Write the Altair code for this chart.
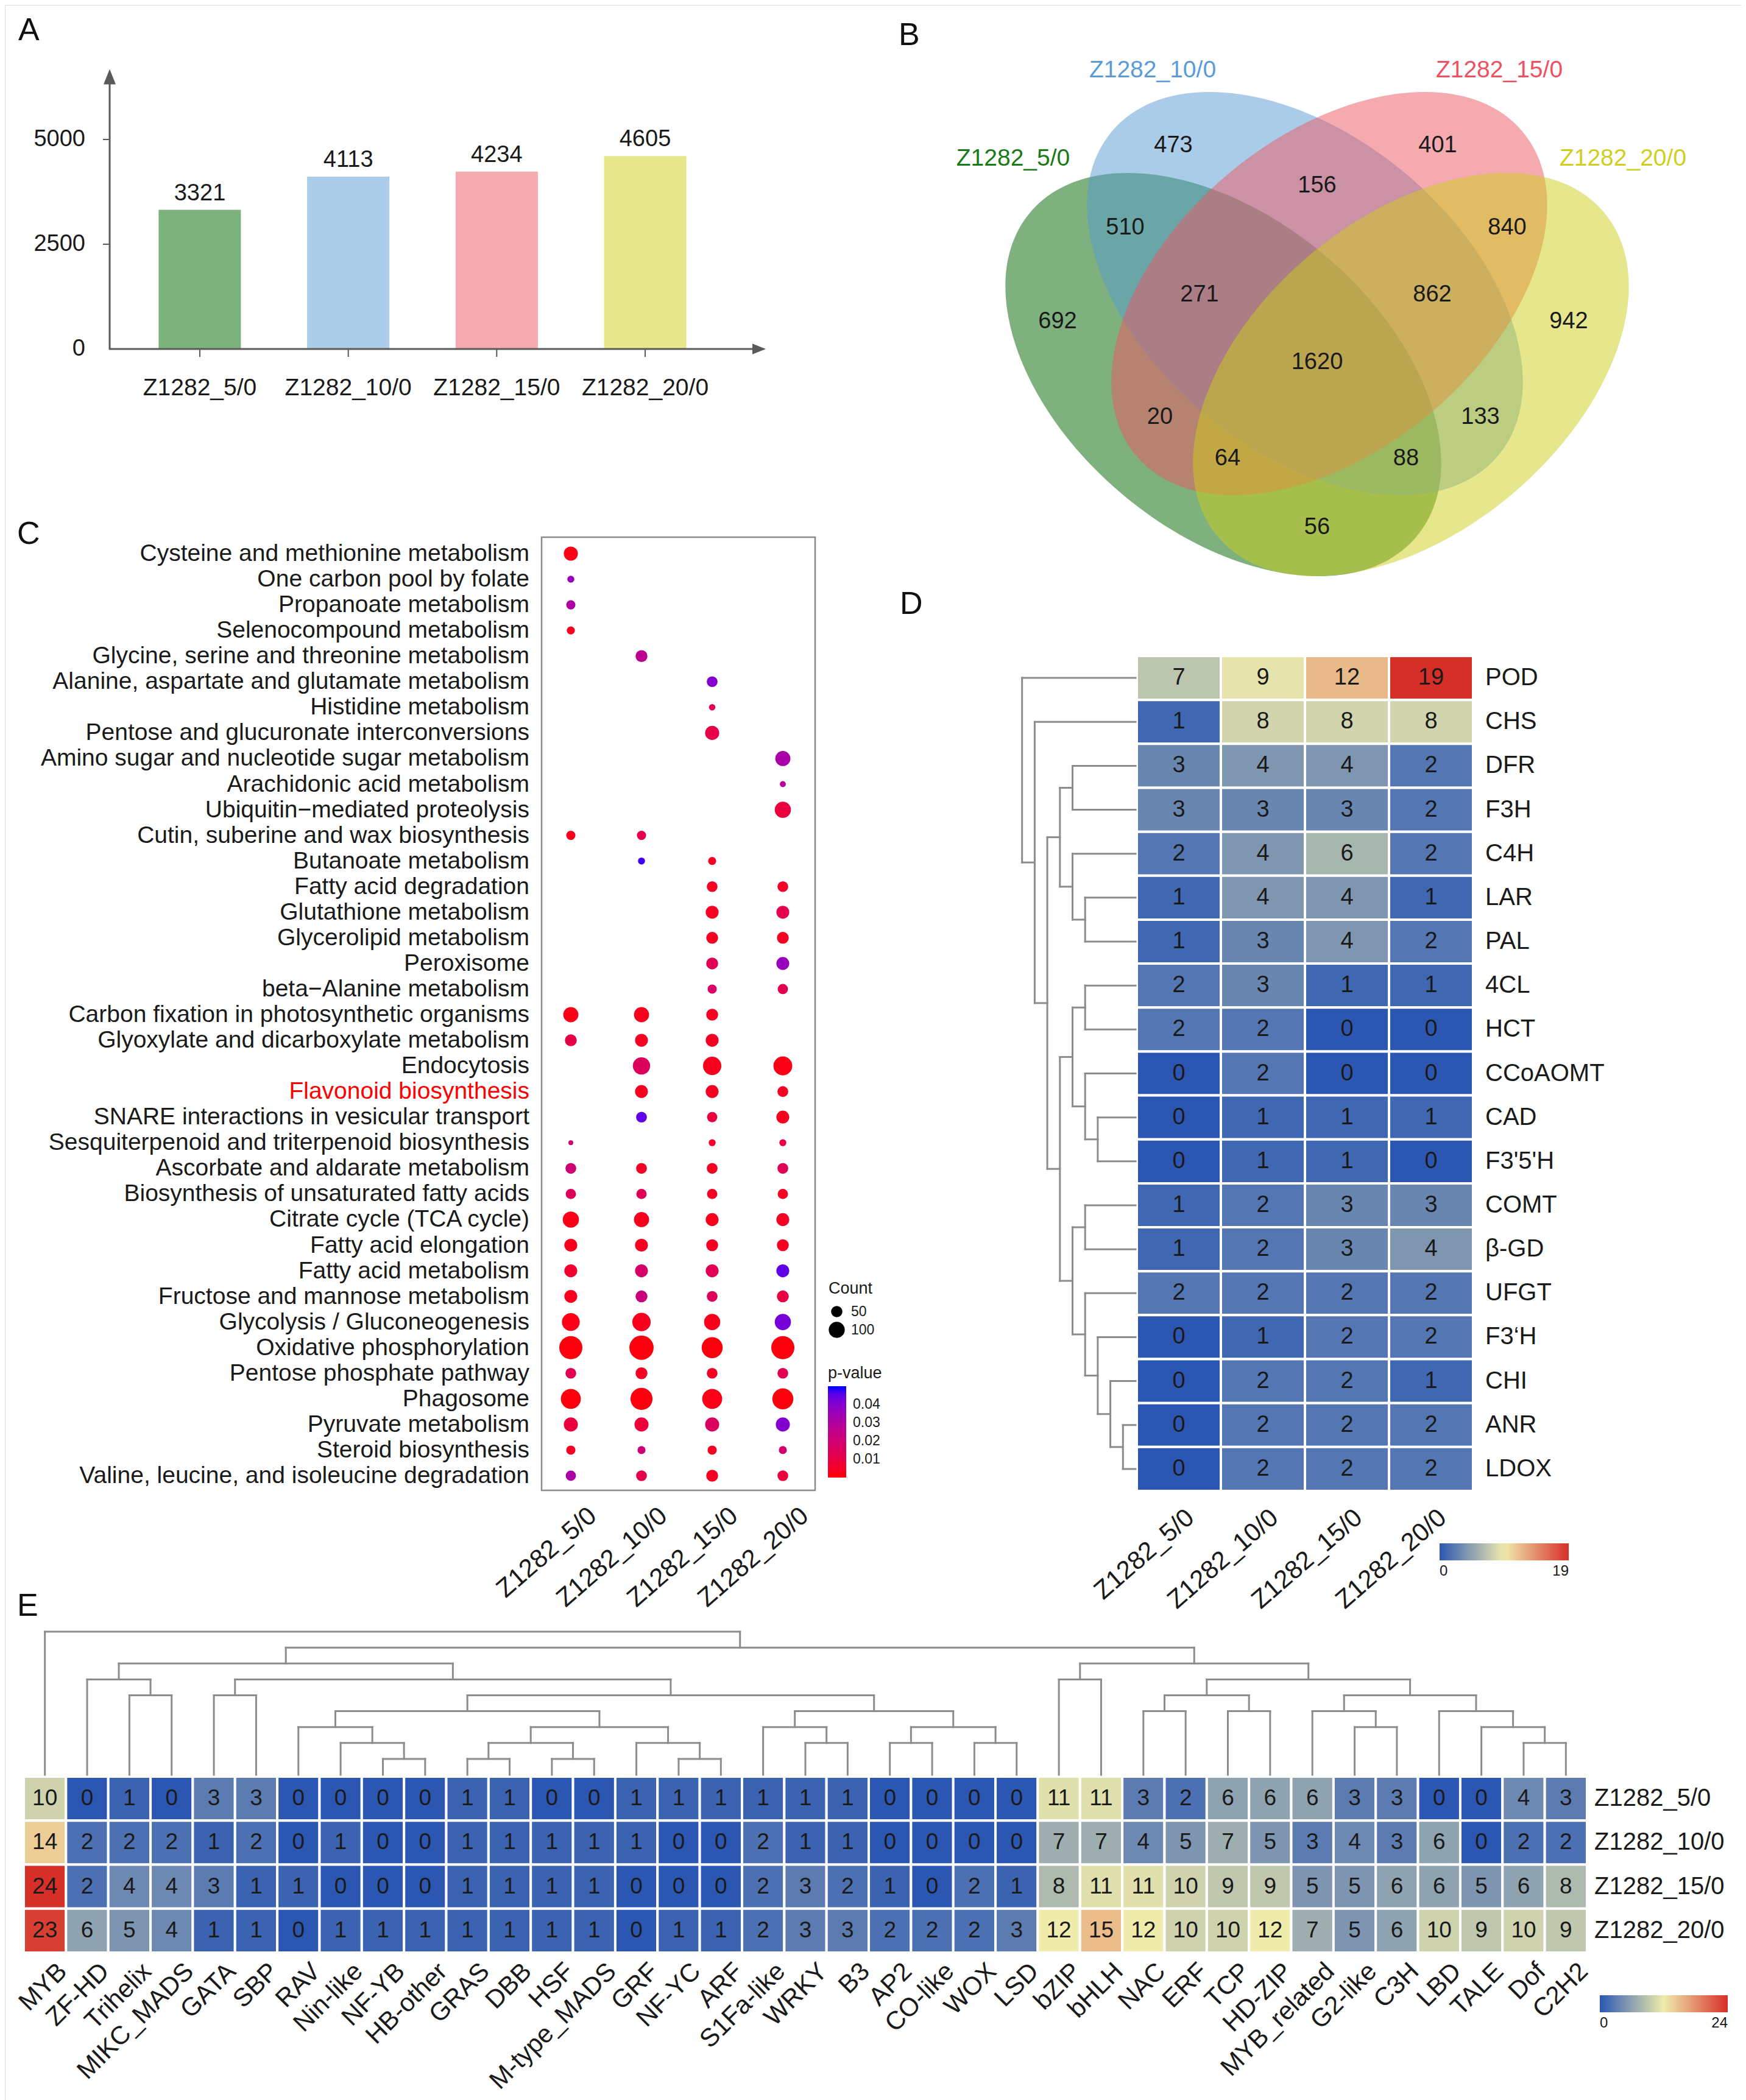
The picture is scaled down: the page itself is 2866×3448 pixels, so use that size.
import altair as alt
import pandas as pd

M = 8  # page margin; layout numbers below are page pixels


def px(v):
    return v - M


FONT = "Liberation Sans"
INK = "#1a1a1a"
GREY = "#8c8c8c"
AXIS = "#5a5a5a"

samples = ["Z1282_5/0", "Z1282_10/0", "Z1282_15/0", "Z1282_20/0"]

# ---------------- Panel A data
deg_counts = [3321, 4113, 4234, 4605]
bar_colors = ["#7DB27D", "#ABCDE9", "#F6AAB1", "#E6E68A"]
a_ticks = [0, 2500, 5000]

# ---------------- Panel B data
venn_regions = ["5 only", "10 only", "15 only", "20 only", "5&10", "10&15", "15&20",
                "5&10&15", "10&15&20", "all", "5&15", "10&20", "5&15&20", "5&10&20", "5&20"]
venn_counts = [692, 473, 401, 942, 510, 156, 840, 271, 862, 1620, 20, 133, 64, 88, 56]
venn_fill = ["#006400", "#5599D1", "#EB5561", "#CDCD19"]
venn_title_color = ["#177A17", "#5A9BD8", "#F0505F", "#CFCF1F"]
# layout of the diagram (local pixels from its centre)
venn_label_x = [-426, -236, 198, 413, -315, 0, 312, -193, 189, 0, -258, 268, -147, 146, 0]
venn_label_y = [-20, -309, -309, -20, -174, -243, -174, -64, -64, 47, 137, 137, 205, 205, 318]
ell_cx = [-154, -20, 20, 154]
ell_cy = [67, -66, -66, 67]
ell_angle = [40, 40, 320, 320]
title_x = [-499, -270, 299, 502]
title_y = [-288, -433, -433, -288]

# ---------------- Panel C data
pathways = [
    "Cysteine and methionine metabolism", "One carbon pool by folate", "Propanoate metabolism",
    "Selenocompound metabolism", "Glycine, serine and threonine metabolism",
    "Alanine, aspartate and glutamate metabolism", "Histidine metabolism",
    "Pentose and glucuronate interconversions", "Amino sugar and nucleotide sugar metabolism",
    "Arachidonic acid metabolism", "Ubiquitin\u2212mediated proteolysis",
    "Cutin, suberine and wax biosynthesis", "Butanoate metabolism", "Fatty acid degradation",
    "Glutathione metabolism", "Glycerolipid metabolism", "Peroxisome", "beta\u2212Alanine metabolism",
    "Carbon fixation in photosynthetic organisms", "Glyoxylate and dicarboxylate metabolism",
    "Endocytosis", "Flavonoid biosynthesis", "SNARE interactions in vesicular transport",
    "Sesquiterpenoid and triterpenoid biosynthesis", "Ascorbate and aldarate metabolism",
    "Biosynthesis of unsaturated fatty acids", "Citrate cycle (TCA cycle)", "Fatty acid elongation",
    "Fatty acid metabolism", "Fructose and mannose metabolism", "Glycolysis / Gluconeogenesis",
    "Oxidative phosphorylation", "Pentose phosphate pathway", "Phagosome", "Pyruvate metabolism",
    "Steroid biosynthesis", "Valine, leucine, and isoleucine degradation"]
N = None
count_5 = [77, 19, 33, 25, N, N, N, N, N, N, N, 33, N, N, N, N, N, N, 89, 55, N, N, N, 9, 45, 41, 102, 65, 65, 65, 123, 209, 45, 155, 77, 33, 41]
p_5 = [.002, .036, .031, .003, N, N, N, N, N, N, N, .003, N, N, N, N, N, N, .002, .011, N, N, N, .020, .021, .015, .002, .003, .006, .003, .002, .001, .013, .001, .009, .004, .032]
count_10 = [N, N, N, N, 55, N, N, N, N, N, N, 33, 19, N, N, N, N, N, 89, 65, 116, 65, 45, N, 45, 41, 89, 65, 65, 55, 131, 229, 55, 190, 77, 25, 45]
p_10 = [N, N, N, N, .027, N, N, N, N, N, N, .012, .048, N, N, N, N, N, .003, .004, .015, .003, .045, N, .004, .014, .003, .003, .018, .022, .003, .001, .004, .001, .008, .021, .012]
count_15 = [N, N, N, N, N, 45, 16, 77, N, N, N, N, 25, 45, 65, 55, 55, 33, 55, 65, 131, 65, 41, 19, 45, 41, 65, 55, 65, 45, 102, 172, 45, 155, 77, 33, 55]
p_15 = [N, N, N, N, N, .040, .014, .011, N, N, N, N, .004, .004, .004, .004, .014, .017, .004, .004, .003, .004, .009, .005, .004, .004, .003, .004, .013, .015, .003, .001, .004, .002, .016, .004, .004]
count_20 = [N, N, N, N, N, N, N, N, 89, 14, 102, N, N, 45, 65, 55, 65, 41, N, N, 139, 45, 65, 19, 45, 41, 65, 55, 65, 55, 102, 209, 45, 172, 77, 25, 45]
p_20 = [N, N, N, N, N, N, N, N, .032, .028, .009, N, N, .005, .012, .004, .036, .013, N, N, .002, .004, .003, .010, .014, .004, .004, .004, .045, .010, .042, .001, .013, .001, .040, .019, .009]
highlight_pathway = "Flavonoid biosynthesis"

# ---------------- Panel D data
genes = ["POD", "CHS", "DFR", "F3H", "C4H", "LAR", "PAL", "4CL", "HCT", "CCoAOMT", "CAD",
         "F3'5'H", "COMT", "\u03b2-GD", "UFGT", "F3\u2018H", "CHI", "ANR", "LDOX"]
d_5 = [7, 1, 3, 3, 2, 1, 1, 2, 2, 0, 0, 0, 1, 1, 2, 0, 0, 0, 0]
d_10 = [9, 8, 4, 3, 4, 4, 3, 3, 2, 2, 1, 1, 2, 2, 2, 1, 2, 2, 2]
d_15 = [12, 8, 4, 3, 6, 4, 4, 1, 0, 0, 1, 1, 3, 3, 2, 2, 2, 2, 2]
d_20 = [19, 8, 2, 2, 2, 1, 2, 1, 0, 0, 1, 0, 3, 4, 2, 2, 1, 2, 2]
d_merges = [
    ("DFR", "F3H", 5), ("LAR", "PAL", 4), ("C4H", "#1", 5), ("#0", "#2", 6),
    ("4CL", "HCT", 4), ("CAD", "F3'5'H", 3), ("CCoAOMT", "#5", 4), ("#4", "#6", 5),
    ("COMT", "\u03b2-GD", 4), ("ANR", "LDOX", 1), ("CHI", "#9", 2), ("F3\u2018H", "#10", 3),
    ("UFGT", "#11", 4), ("#8", "#12", 5), ("#7", "#13", 6), ("#3", "#14", 7),
    ("CHS", "#15", 8), ("POD", "#16", 9)]

# ---------------- Panel E data
tfs = ["MYB", "ZF-HD", "Trihelix", "MIKC_MADS", "GATA", "SBP", "RAV", "Nin-like", "NF-YB",
       "HB-other", "GRAS", "DBB", "HSF", "M-type_MADS", "GRF", "NF-YC", "ARF", "S1Fa-like",
       "WRKY", "B3", "AP2", "CO-like", "WOX", "LSD", "bZIP", "bHLH", "NAC", "ERF", "TCP",
       "HD-ZIP", "MYB_related", "G2-like", "C3H", "LBD", "TALE", "Dof", "C2H2"]
e_5 = [10, 0, 1, 0, 3, 3, 0, 0, 0, 0, 1, 1, 0, 0, 1, 1, 1, 1, 1, 1, 0, 0, 0, 0, 11, 11, 3, 2, 6, 6, 6, 3, 3, 0, 0, 4, 3]
e_10 = [14, 2, 2, 2, 1, 2, 0, 1, 0, 0, 1, 1, 1, 1, 1, 0, 0, 2, 1, 1, 0, 0, 0, 0, 7, 7, 4, 5, 7, 5, 3, 4, 3, 6, 0, 2, 2]
e_15 = [24, 2, 4, 4, 3, 1, 1, 0, 0, 0, 1, 1, 1, 1, 0, 0, 0, 2, 3, 2, 1, 0, 2, 1, 8, 11, 11, 10, 9, 9, 5, 5, 6, 6, 5, 6, 8]
e_20 = [23, 6, 5, 4, 1, 1, 0, 1, 1, 1, 1, 1, 1, 1, 0, 1, 1, 2, 3, 3, 2, 2, 2, 3, 12, 15, 12, 10, 10, 12, 7, 5, 6, 10, 9, 10, 9]
e_merges = [
    ("NF-YB", "HB-other", 1), ("GRAS", "DBB", 1), ("HSF", "M-type_MADS", 1), ("NF-YC", "ARF", 1),
    ("Nin-like", "#0", 2), ("#1", "#2", 2), ("GRF", "#3", 2), ("WRKY", "B3", 2),
    ("AP2", "CO-like", 2), ("WOX", "LSD", 2), ("Dof", "C2H2", 2),
    ("RAV", "#4", 3), ("#5", "#6", 3), ("S1Fa-like", "#7", 3), ("#8", "#9", 3),
    ("G2-like", "C3H", 3), ("TALE", "#10", 3),
    ("#11", "#12", 4), ("#13", "#14", 4), ("NAC", "ERF", 4), ("TCP", "HD-ZIP", 4),
    ("MYB_related", "#15", 4), ("LBD", "#16", 4),
    ("Trihelix", "MIKC_MADS", 5), ("GATA", "SBP", 5), ("#17", "#18", 5), ("#19", "#20", 5),
    ("#21", "#22", 5),
    ("ZF-HD", "#23", 6), ("#24", "#25", 6), ("bZIP", "bHLH", 6), ("#26", "#27", 6),
    ("#28", "#29", 7), ("#30", "#31", 7), ("#32", "#33", 8), ("MYB", "#34", 9)]

HEAT_BLUE, HEAT_MID, HEAT_RED = "#2B57B3", "#F0ECAC", "#D62F27"

panel_letters = ["A", "B", "C", "D", "E"]
letter_x = [30, 1475, 28, 1477, 28]
letter_y = [66, 74, 893, 1008, 2653]


# ---------------- helpers
def dendro_segments(leaves, merges):
    pos = {n: float(i) for i, n in enumerate(leaves)}
    lev = {n: 0.0 for n in leaves}
    rows = []
    for k, (a, b, h) in enumerate(merges):
        for c in (a, b):
            rows.append({"p1": pos[c], "p2": pos[c], "h1": lev[c], "h2": float(h)})
        rows.append({"p1": pos[a], "p2": pos[b], "h1": float(h), "h2": float(h)})
        pos["#%d" % k] = (pos[a] + pos[b]) / 2
        lev["#%d" % k] = float(h)
    return pd.DataFrame(rows)


def lin(d0, d1, r0, r1):
    return alt.Scale(type="linear", domain=[d0, d1], range=[px(r0), px(r1)], nice=False, zero=False)


def band(domain, r0, r1, inner=0.0, outer=0.0):
    return alt.Scale(type="band", domain=domain, range=[px(r0), px(r1)],
                     paddingInner=inner, paddingOuter=outer)


def point(domain, r0, r1):
    return alt.Scale(type="point", domain=domain, range=[px(r0), px(r1)], padding=0)


one = pd.DataFrame({"k": [0]})
layers = []

# ================= Panel A
a_df = pd.DataFrame({"sample": samples, "genes": deg_counts, "fill": bar_colors})
a_xb = band(samples, 206, 1181, 0.446, 0.223)
a_xp = point(samples, 328, 1059)
a_y = lin(0, 5000, 573, 229)

layers.append(alt.Chart(a_df).mark_bar().encode(
    x=alt.X("sample:N", scale=a_xb, axis=None),
    y=alt.Y("genes:Q", scale=a_y, axis=None),
    y2=alt.datum(0),
    color=alt.Color("fill:N", scale=None)))
layers.append(alt.Chart(a_df).mark_text(font=FONT, fontSize=38, color=INK, baseline="alphabetic", dy=-16).encode(
    x=alt.X("sample:N", scale=a_xp, axis=None),
    y=alt.Y("genes:Q", scale=a_y, axis=None),
    text=alt.Text("genes:Q", format="d")))
layers.append(alt.Chart(one).mark_rule(color=AXIS, strokeWidth=3).encode(
    x=alt.value(px(180)), y=alt.value(px(574)), y2=alt.value(px(134))))
layers.append(alt.Chart(one).mark_rule(color=AXIS, strokeWidth=3).encode(
    x=alt.value(px(179)), x2=alt.value(px(1238)), y=alt.value(px(573))))
layers.append(alt.Chart(one).mark_point(shape="M 0 -1 L 0.8 1 L -0.8 1 Z", filled=True, size=625,
                                        color=AXIS, opacity=1, strokeWidth=0).encode(
    x=alt.value(px(180)), y=alt.value(px(126))))
layers.append(alt.Chart(one).mark_point(shape="M 1 0 L -1 -0.8 L -1 0.8 Z", filled=True, size=484,
                                        color=AXIS, opacity=1, strokeWidth=0).encode(
    x=alt.value(px(1246)), y=alt.value(px(573))))
a_tick_df = pd.DataFrame({"v": a_ticks})
layers.append(alt.Chart(a_tick_df[a_tick_df.v > 0]).mark_rule(color=AXIS, strokeWidth=2).encode(
    y=alt.Y("v:Q", scale=a_y, axis=None), x=alt.value(px(169)), x2=alt.value(px(180))))
layers.append(alt.Chart(a_tick_df).mark_text(font=FONT, fontSize=38, color=INK, align="right", baseline="middle").encode(
    y=alt.Y("v:Q", scale=a_y, axis=None), x=alt.value(px(140)), text="v:N"))
layers.append(alt.Chart(a_df).mark_rule(color=AXIS, strokeWidth=2).encode(
    x=alt.X("sample:N", scale=a_xp, axis=None), y=alt.value(px(574)), y2=alt.value(px(586))))
layers.append(alt.Chart(a_df).mark_text(font=FONT, fontSize=39, color=INK, baseline="middle").encode(
    x=alt.X("sample:N", scale=a_xp, axis=None), y=alt.value(px(637)), text="sample:N"))

# ================= Panel B (Venn)
VCX, VCY = 2162, 548
b_x = lin(-600, 600, VCX - 600, VCX + 600)
b_y = lin(-600, 600, VCY - 600, VCY + 600)
k = 0.5523
r = 0.621
ellipse = ("M -1 0 C -1 {a} {b} {c} 0 {c} C {k} {c} 1 {a} 1 0 C 1 {ra} {k} {r} 0 {r} "
           "C {b} {r} -1 {ra} -1 0 Z").format(a=-k * r, b=-k, c=-r, k=k, r=r, ra=k * r)
ell_df = pd.DataFrame({"set": samples, "cx": ell_cx, "cy": ell_cy, "ang": ell_angle, "fill": venn_fill})
layers.append(alt.Chart(ell_df).mark_point(shape=ellipse, filled=True, size=828 ** 2, opacity=0.5,
                                           strokeWidth=0).encode(
    x=alt.X("cx:Q", scale=b_x, axis=None), y=alt.Y("cy:Q", scale=b_y, axis=None),
    angle=alt.Angle("ang:Q", scale=None), color=alt.Color("fill:N", scale=None)))
vl_df = pd.DataFrame({"region": venn_regions, "n": venn_counts, "lx": venn_label_x, "ly": venn_label_y})
layers.append(alt.Chart(vl_df).mark_text(font=FONT, fontSize=38, color=INK, baseline="middle").encode(
    x=alt.X("lx:Q", scale=b_x, axis=None), y=alt.Y("ly:Q", scale=b_y, axis=None), text="n:N"))
vt_df = pd.DataFrame({"set": samples, "tx": title_x, "ty": title_y, "c": venn_title_color})
layers.append(alt.Chart(vt_df).mark_text(font=FONT, fontSize=39, baseline="middle").encode(
    x=alt.X("tx:Q", scale=b_x, axis=None), y=alt.Y("ty:Q", scale=b_y, axis=None), text="set:N",
    color=alt.Color("c:N", scale=None)))

# ================= Panel C (dot plot)
rows = []
for s, cs, ps in zip(samples, [count_5, count_10, count_15, count_20], [p_5, p_10, p_15, p_20]):
    assert len(cs) == len(pathways) and len(ps) == len(pathways)
    for pw, c, p in zip(pathways, cs, ps):
        if c is not None:
            rows.append({"pathway": pw, "sample": s, "Count": c, "pvalue": p})
c_df = pd.DataFrame(rows)
c_x = point(samples, 937, 1285)
c_y = point(pathways, 909, 2423)
layers.append(alt.Chart(one).mark_rect(fillOpacity=0, stroke="#8a8a8a", strokeWidth=2.5).encode(
    x=alt.value(px(889)), x2=alt.value(px(1338)), y=alt.value(px(882)), y2=alt.value(px(2447))))
layers.append(alt.Chart(c_df).mark_circle(opacity=1).encode(
    x=alt.X("sample:N", scale=c_x, axis=None),
    y=alt.Y("pathway:N", scale=c_y, axis=None),
    size=alt.Size("Count:Q", scale=alt.Scale(domain=[0, 250], range=[0, 1733], zero=True),
                   legend=alt.Legend(title="Count", orient="none", legendX=px(1360), legendY=px(2103),
                                     values=[50, 100], symbolFillColor="black", symbolStrokeWidth=0,
                                     symbolOpacity=1, titleFont=FONT, titleFontSize=27,
                                     titleFontWeight="normal", titleColor=INK, labelFont=FONT,
                                     labelFontSize=23, labelColor=INK, labelOffset=10,
                                     titlePadding=12, rowPadding=4)),
    color=alt.Color("pvalue:Q", scale=alt.Scale(domain=[0, 0.05], range=["#FF0000", "#0000FF"],
                                                  interpolate="lab", nice=False, zero=False),
                    legend=alt.Legend(title="p-value", orient="none", legendX=px(1359), legendY=px(2242),
                                      direction="vertical", gradientLength=150, gradientThickness=30,
                                      gradientStrokeWidth=0, values=[0.01, 0.02, 0.03, 0.04],
                                      format=".2f", titleFont=FONT, titleFontSize=27,
                                      titleFontWeight="normal", titleColor=INK, labelFont=FONT,
                                      labelFontSize=23, labelColor=INK, labelOffset=11,
                                      titlePadding=7))))
cl_df = pd.DataFrame({"pathway": pathways,
                      "tc": ["#FF0000" if p == highlight_pathway else INK for p in pathways]})
layers.append(alt.Chart(cl_df).mark_text(font=FONT, fontSize=39, align="right", baseline="middle").encode(
    y=alt.Y("pathway:N", scale=c_y, axis=None), x=alt.value(px(869)), text="pathway:N",
    color=alt.Color("tc:N", scale=None)))
s_df = pd.DataFrame({"sample": samples})
layers.append(alt.Chart(s_df).mark_text(font=FONT, fontSize=42, color=INK, align="right", baseline="top",
                                        angle=319, xOffset=23).encode(
    x=alt.X("sample:N", scale=c_x, axis=None), y=alt.value(px(2468)), text="sample:N"))

# ================= Panel D (heatmap)
d_rows = []
for s, vals in zip(samples, [d_5, d_10, d_15, d_20]):
    for g, v in zip(genes, vals):
        d_rows.append({"gene": g, "sample": s, "n": v})
d_df = pd.DataFrame(d_rows)
d_x = band(samples, 1866, 2418)
d_y = band(genes, 1077, 2448)
layers.append(alt.Chart(d_df).mark_rect(stroke="white", strokeWidth=4).encode(
    x=alt.X("sample:N", scale=d_x, axis=None), y=alt.Y("gene:N", scale=d_y, axis=None),
    color=alt.Color("n:Q", scale=alt.Scale(domain=[0, 9.5, 19], range=[HEAT_BLUE, HEAT_MID, HEAT_RED],
                                             interpolate="rgb"),
                    legend=alt.Legend(title=None, orient="none", legendX=px(2363), legendY=px(2534),
                                      direction="horizontal", gradientLength=212, gradientThickness=28,
                                      gradientStrokeWidth=0, values=[0, 19], labelFont=FONT,
                                      labelFontSize=24, labelColor=INK, labelOffset=6))))
layers.append(alt.Chart(d_df).mark_text(font=FONT, fontSize=38, color=INK, baseline="middle").encode(
    x=alt.X("sample:N", scale=d_x, axis=None), y=alt.Y("gene:N", scale=d_y, axis=None), text="n:N"))
g_df = pd.DataFrame({"gene": genes})
layers.append(alt.Chart(g_df).mark_text(font=FONT, fontSize=40, color=INK, align="left", baseline="middle").encode(
    y=alt.Y("gene:N", scale=d_y, axis=None), x=alt.value(px(2438)), text="gene:N"))
layers.append(alt.Chart(s_df).mark_text(font=FONT, fontSize=42, color=INK, align="right", baseline="top",
                                        angle=319, xOffset=6).encode(
    x=alt.X("sample:N", scale=d_x, axis=None), y=alt.value(px(2471)), text="sample:N"))
dd = dendro_segments(genes, d_merges)
layers.append(alt.Chart(dd).mark_rule(color=GREY, strokeWidth=3, strokeCap="square").encode(
    x=alt.X("h1:Q", scale=lin(0, 9, 1864, 1864 - 20.7 * 9), axis=None), x2="h2:Q",
    y=alt.Y("p1:Q", scale=lin(-0.5, len(genes) - 0.5, 1077, 2448), axis=None), y2="p2:Q"))

# ================= Panel E (heatmap)
e_rows = []
for s, vals in zip(samples, [e_5, e_10, e_15, e_20]):
    assert len(vals) == len(tfs)
    for t, v in zip(tfs, vals):
        e_rows.append({"tf": t, "sample": s, "n": v})
e_df = pd.DataFrame(e_rows)
e_x = band(tfs, 39, 2605)
e_y = band(samples, 2917, 3206)
layers.append(alt.Chart(e_df).mark_rect(stroke="white", strokeWidth=4).encode(
    x=alt.X("tf:N", scale=e_x, axis=None), y=alt.Y("sample:N", scale=e_y, axis=None),
    color=alt.Color("n:Q", scale=alt.Scale(domain=[0, 12, 24], range=[HEAT_BLUE, HEAT_MID, HEAT_RED],
                                             interpolate="rgb"),
                    legend=alt.Legend(title=None, orient="none", legendX=px(2626), legendY=px(3276),
                                      direction="horizontal", gradientLength=210, gradientThickness=28,
                                      gradientStrokeWidth=0, values=[0, 24], labelFont=FONT,
                                      labelFontSize=24, labelColor=INK, labelOffset=6))))
layers.append(alt.Chart(e_df).mark_text(font=FONT, fontSize=37, color=INK, baseline="middle").encode(
    x=alt.X("tf:N", scale=e_x, axis=None), y=alt.Y("sample:N", scale=e_y, axis=None), text="n:N"))
layers.append(alt.Chart(s_df).mark_text(font=FONT, fontSize=40, color=INK, align="left", baseline="middle").encode(
    y=alt.Y("sample:N", scale=e_y, axis=None), x=alt.value(px(2617)), text="sample:N"))
t_df = pd.DataFrame({"tf": tfs})
layers.append(alt.Chart(t_df).mark_text(font=FONT, fontSize=42, color=INK, align="right", baseline="top",
                                        angle=315, xOffset=15).encode(
    x=alt.X("tf:N", scale=e_x, axis=None), y=alt.value(px(3216)), text="tf:N"))
ed = dendro_segments(tfs, e_merges)
layers.append(alt.Chart(ed).mark_rule(color=GREY, strokeWidth=3, strokeCap="square").encode(
    x=alt.X("p1:Q", scale=lin(-0.5, len(tfs) - 0.5, 39, 2605), axis=None), x2="p2:Q",
    y=alt.Y("h1:Q", scale=lin(0, 9, 2914, 2914 - 26.1 * 9), axis=None), y2="h2:Q"))

# ================= panel letters
for L, lx, ly in zip(panel_letters, letter_x, letter_y):
    layers.append(alt.Chart(pd.DataFrame({"t": [L]})).mark_text(
        font=FONT, fontSize=52, color="#111111", align="left", baseline="alphabetic").encode(
        x=alt.value(px(lx)), y=alt.value(px(ly)), text="t:N"))

chart = alt.layer(*layers).resolve_scale(
    x="independent", y="independent", color="independent", size="independent"
).properties(
    width=2850, height=3440, padding=0, autosize=alt.AutoSizeParams(type="none")
).configure_view(strokeWidth=0).configure(font=FONT)

chart.save("out.html", embed_options={"renderer": "svg", "actions": False})
